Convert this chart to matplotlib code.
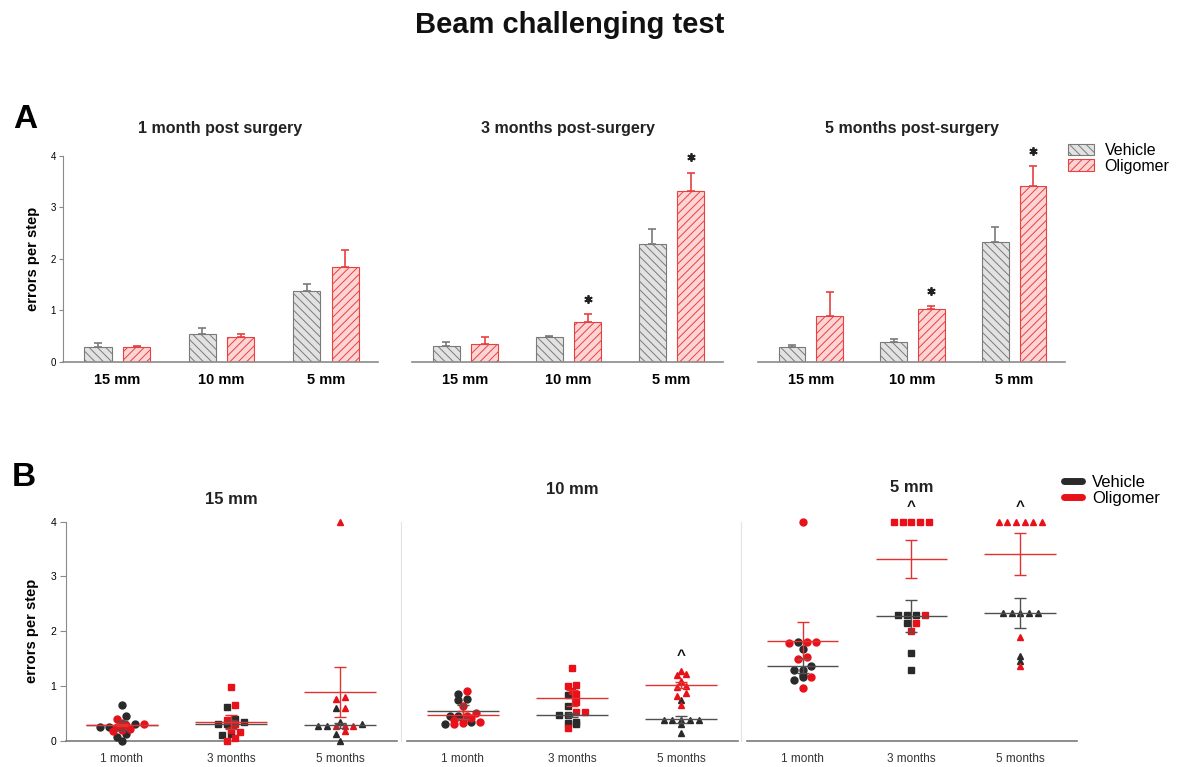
import numpy as np
import matplotlib
matplotlib.use("Agg")
import matplotlib.pyplot as plt
from matplotlib.patches import Patch
from matplotlib.lines import Line2D

plt.rcParams['font.family'] = ['Liberation Sans', 'DejaVu Sans']
plt.rcParams['hatch.linewidth'] = 0.7

sizes = ["15 mm", "10 mm", "5 mm"]
months = ["1 month", "3 months", "5 months"]
titles_a = ["1 month post surgery", "3 months post-surgery", "5 months post-surgery"]
titles_b = ["15 mm", "10 mm", "5 mm"]

# panel A: mean and SEM, rows = time after surgery, cols = beam width
veh_mean = [[0.28, 0.54, 1.37], [0.31, 0.47, 2.28], [0.28, 0.39, 2.33]]
veh_sem = [[0.08, 0.12, 0.14], [0.07, 0.03, 0.29], [0.04, 0.06, 0.28]]
oli_mean = [[0.28, 0.47, 1.83], [0.34, 0.78, 3.32], [0.89, 1.02, 3.41]]
oli_sem = [[0.02, 0.07, 0.33], [0.13, 0.14, 0.35], [0.46, 0.06, 0.39]]
oli_star = [[0, 0, 0], [0, 1, 1], [0, 1, 1]]

# panel B: single animals, rows = time after surgery
veh_15 = [[0.66, 0.46, 0.30, 0.25, 0.13, 0.07, 0.00, 0.25],
          [0.62, 0.40, 0.30, 0.30, 0.13, 0.10, 0.35],
          [0.27, 0.27, 0.30, 0.13, 0.00, 0.60, 0.35]]
oli_15 = [[0.32, 0.30, 0.28, 0.25, 0.22, 0.40, 0.18, 0.20],
          [0.98, 0.66, 0.38, 0.30, 0.20, 0.00, 0.05, 0.15],
          [4.00, 0.80, 0.77, 0.27, 0.27, 0.27, 0.17, 0.60]]
veh_10 = [[0.85, 0.77, 0.75, 0.45, 0.40, 0.35, 0.30, 0.45],
          [0.83, 0.63, 0.47, 0.47, 0.34, 0.33, 0.30],
          [0.74, 0.38, 0.38, 0.38, 0.38, 0.38, 0.30, 0.14]]
oli_10 = [[0.90, 0.63, 0.51, 0.42, 0.38, 0.35, 0.32, 0.30, 0.45],
          [1.32, 1.02, 1.00, 0.90, 0.85, 0.52, 0.52, 0.24, 0.70],
          [1.28, 1.22, 1.09, 0.99, 0.98, 0.87, 0.81, 0.65, 1.20]]
veh_5 = [[1.80, 1.68, 1.30, 1.20, 1.16, 1.10, 1.30, 1.36],
         [2.30, 2.30, 2.30, 2.15, 1.61, 1.29],
         [2.33, 2.33, 2.33, 2.33, 2.33, 1.55, 1.45]]
oli_5 = [[4.00, 1.80, 1.80, 1.78, 1.52, 1.50, 1.16, 0.97],
         [4.00, 4.00, 4.00, 4.00, 4.00, 2.30, 2.15, 2.00],
         [4.00, 4.00, 4.00, 4.00, 4.00, 4.00, 1.89, 1.36]]
caret_b = [[0, 0, 0], [0, 0, 1], [0, 1, 1]]

veh_pts = [veh_15, veh_10, veh_5]
oli_pts = [oli_15, oli_10, oli_5]
marks = ['o', 's', '^']

GREY = '#7a7a7a'
RED = '#e8403f'
DOT_K = '#2a2a2a'
DOT_R = '#e8111a'


def swarm(vals, step=0.08, tol=0.07):
    vals = np.asarray(vals, dtype=float)
    order = np.argsort(vals, kind='stable')
    offs = np.zeros(len(vals))
    i = 0
    while i < len(order):
        j = i
        while j + 1 < len(order) and vals[order[j + 1]] - vals[order[i]] < tol:
            j += 1
        grp = order[i:j + 1]
        offs[grp] = (np.arange(len(grp)) - (len(grp) - 1) / 2) * step
        i = j + 1
    return offs


W, H = 1177, 767
fig = plt.figure(figsize=(W / 100, H / 100), dpi=100)


def px_axes(x0, x1, y0, y1):
    return fig.add_axes([x0 / W, 1 - y0 / H, (x1 - x0) / W, (y0 - y1) / H])


fig.text(570 / W, 1 - 25 / H, "Beam challenging test", ha='center', va='center',
         fontsize=21, fontweight='bold', color='#111111')
fig.text(25 / W, 1 - 119 / H, "A", ha='center', va='center', fontsize=24, fontweight='bold')
fig.text(24 / W, 1 - 477 / H, "B", ha='center', va='center', fontsize=24, fontweight='bold')

# ---- panel A ----
a_x = [(63, 378), (412, 723), (758, 1065)]
x = np.arange(3)
for i, (x0, x1) in enumerate(a_x):
    ax = px_axes(x0, x1, 361.7, 155.7)
    ax.bar(x - 0.185, veh_mean[i], 0.26, color='#e2e2e2', edgecolor=GREY,
           hatch='\\\\\\\\', lw=0.8, zorder=2)
    ax.bar(x + 0.185, oli_mean[i], 0.26, color='#ffd4d4', edgecolor=RED,
           hatch='////', lw=0.8, zorder=2)
    ax.errorbar(x - 0.185, veh_mean[i], yerr=[np.zeros(3), veh_sem[i]], fmt='none',
                ecolor=GREY, elinewidth=1.2, capsize=3, capthick=1.2, zorder=1)
    ax.errorbar(x + 0.185, oli_mean[i], yerr=[np.zeros(3), oli_sem[i]], fmt='none',
                ecolor=RED, elinewidth=1.2, capsize=3, capthick=1.2, zorder=1)
    for j in range(3):
        if oli_star[i][j]:
            ax.plot(j + 0.185, oli_mean[i][j] + oli_sem[i][j] + 0.3, marker=(6, 2, 0),
                    ms=6, mew=1.3, color='#222222', clip_on=False)
    ax.set_xlim(-0.52, 2.5)
    ax.set_ylim(0, 4)
    ax.set_xticks(x)
    ax.set_xticklabels(sizes, fontsize=10.5, fontweight='bold')
    ax.tick_params(axis='x', length=0, pad=8)
    for s in ['top', 'right']:
        ax.spines[s].set_visible(False)
    ax.spines['bottom'].set_color('#8a8a8a')
    ax.spines['bottom'].set_linewidth(1.2)
    if i == 0:
        ax.set_yticks([0, 1, 2, 3, 4])
        ax.tick_params(axis='y', length=3, width=0.8, color='#8a8a8a', labelsize=7, pad=2)
        ax.spines['left'].set_color('#8a8a8a')
        ax.set_ylabel("errors per step", fontsize=10.5, fontweight='bold', labelpad=8)
    else:
        ax.spines['left'].set_visible(False)
        ax.set_yticks([])
    fig.text((x0 + x1) / 2 / W, 1 - 129 / H, titles_a[i], ha='center', va='center',
             fontsize=11.5, fontweight='bold', color='#222222')

fig.legend(handles=[Patch(facecolor='#e2e2e2', edgecolor=GREY, hatch='\\\\\\\\', lw=0.8),
                    Patch(facecolor='#ffd4d4', edgecolor=RED, hatch='////', lw=0.8)],
           labels=["Vehicle", "Oligomer"], loc='upper left',
           bbox_to_anchor=(1068 / W, 1 - 143 / H), frameon=False, fontsize=11.5,
           handlelength=1.6, handleheight=0.75, labelspacing=0.05, handletextpad=0.7,
           borderpad=0, borderaxespad=0)

# ---- panel B ----
b_x = [(66, 397), (407, 738), (747, 1077)]
b_title_y = [500, 489, 488]
for s, (x0, x1) in enumerate(b_x):
    ax = px_axes(x0, x1, 740.7, 521.7)
    for m in range(3):
        v = veh_pts[s][m]
        o = oli_pts[s][m]
        offs = swarm(list(v) + list(o))
        ax.plot(m + offs[:len(v)], v, ls='none', marker=marks[m], ms=5,
                color=DOT_K, mec=DOT_K, clip_on=False, zorder=3)
        ax.plot(m + offs[len(v):], o, ls='none', marker=marks[m], ms=5,
                color=DOT_R, mec=DOT_R, clip_on=False, zorder=4)
        for mean, sem, col in [(veh_mean[m][s], veh_sem[m][s], '#505050'),
                               (oli_mean[m][s], oli_sem[m][s], '#e53030')]:
            ax.hlines(mean, m - 0.33, m + 0.33, color=col, lw=1, zorder=5)
            ax.errorbar(m, mean, yerr=sem, fmt='none', ecolor=col, elinewidth=1,
                        capsize=4, capthick=1, zorder=5)
        if caret_b[s][m]:
            top = max(list(v) + list(o))
            ax.text(m, top + 0.26, "^", ha='center', va='center', fontsize=11,
                    fontweight='bold', color='#111111')
    ax.set_xlim(-0.51, 2.52)
    ax.set_ylim(0, 4)
    ax.set_xticks(range(3))
    ax.set_xticklabels(months, fontsize=8.5, color='#333333')
    ax.tick_params(axis='x', length=0, pad=9)
    for sp in ['top', 'right']:
        ax.spines[sp].set_visible(False)
    ax.spines['bottom'].set_color('#7a7a7a')
    ax.spines['bottom'].set_linewidth(1.2)
    if s == 0:
        ax.set_yticks([0, 1, 2, 3, 4])
        ax.tick_params(axis='y', length=4, width=0.8, color='#8a8a8a', labelsize=7.5, pad=3)
        ax.spines['left'].set_color('#8a8a8a')
        ax.set_ylabel("errors per step", fontsize=10.5, fontweight='bold', labelpad=8)
    else:
        ax.spines['left'].set_position(('outward', 4))
        ax.spines['left'].set_color('#e2e2e2')
        ax.set_yticks([])
    fig.text((x0 + x1) / 2 / W, 1 - b_title_y[s] / H, titles_b[s], ha='center', va='center',
             fontsize=12, fontweight='bold', color='#222222')

fig.legend(handles=[Line2D([0], [0], color=DOT_K, lw=5, solid_capstyle='round'),
                    Line2D([0], [0], color=DOT_R, lw=5, solid_capstyle='round')],
           labels=["Vehicle", "Oligomer"], loc='upper left',
           bbox_to_anchor=(1064 / W, 1 - 475 / H), frameon=False, fontsize=12,
           handlelength=1.1, labelspacing=0.05, handletextpad=0.6,
           borderpad=0, borderaxespad=0)

fig.savefig("out.png", dpi=100)
